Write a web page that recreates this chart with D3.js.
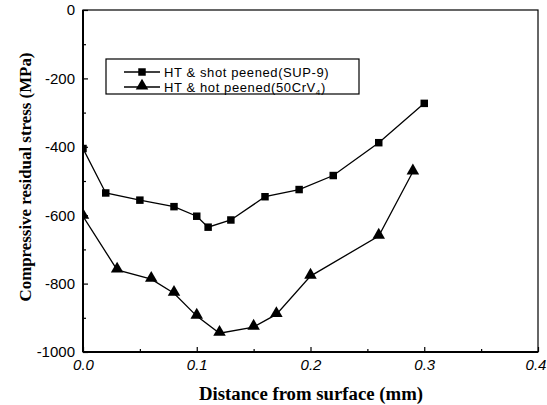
<!DOCTYPE html>
<html>
<head>
<meta charset="utf-8">
<script src="https://cdn.jsdelivr.net/npm/d3@7"></script>
<style>
  body { margin: 0; background: #fff; }
  svg { display: block; }
</style>
</head>
<body>
<div id="chart"></div>
<script>
// Data ------------------------------------------------------------------------------------------
const shotX = [0, 0.02, 0.05, 0.08, 0.10, 0.11, 0.13, 0.16, 0.19, 0.22, 0.26, 0.30];
const shotY = [-405, -535, -556, -575, -603, -635, -614, -546, -525, -484, -388, -273];
const hotX = [0, 0.03, 0.06, 0.08, 0.10, 0.12, 0.15, 0.17, 0.20, 0.26, 0.29];
const hotY = [-603, -760, -787, -828, -895, -945, -927, -890, -778, -661, -473];
const xTicks = [0, 0.1, 0.2, 0.3, 0.4];
const yTicks = [0, -200, -400, -600, -800, -1000];
const legendLabels = ["HT & shot peened(SUP-9)", "HT & hot peened(50CrV"];

const shot = shotX.map((x, i) => ({x, y: shotY[i]}));
const hot = hotX.map((x, i) => ({x, y: hotY[i]}));

// Dimensions ------------------------------------------------------------------------------------
const width = 547, height = 405;
const margin = {top: 10, right: 9, bottom: 53, left: 83};
const w = width - margin.left - margin.right,
      h = height - margin.top - margin.bottom;

const svg = d3.select("#chart").append("svg")
  .attr("width", width)
  .attr("height", height);

const g = svg.append("g")
  .attr("transform", `translate(${margin.left},${margin.top})`);

// Scales ----------------------------------------------------------------------------------------
const x = d3.scaleLinear().domain([0, 0.4]).range([0, w]);
const y = d3.scaleLinear().domain([-1000, 0]).range([h, 0]);

// Clip
svg.append("defs").append("clipPath").attr("id", "plot-clip")
  .append("rect").attr("width", w).attr("height", h);

// Axes ------------------------------------------------------------------------------------------
const tickFont = "'Liberation Sans', Arial, sans-serif";

// major ticks (inward)
g.append("g")
  .attr("transform", `translate(0,${h})`)
  .call(d3.axisBottom(x).tickValues(xTicks).tickSizeInner(-5).tickSizeOuter(0).tickPadding(7)
    .tickFormat(d3.format(".1f")))
  .call(a => a.select(".domain").remove())
  .call(a => a.selectAll("text")
    .attr("font-family", tickFont).attr("font-size", 15).attr("font-style", "italic")
    .attr("fill", "#000"))
  .call(a => a.selectAll("text").filter(d => d === 0.4).attr("dx", -2.5));

g.append("g")
  .call(d3.axisLeft(y).tickValues(yTicks).tickSizeInner(-5).tickSizeOuter(0).tickPadding(8)
    .tickFormat(d => String(d)))
  .call(a => a.select(".domain").remove())
  .call(a => a.selectAll("text")
    .attr("font-family", tickFont).attr("font-size", 15)
    .attr("fill", "#000"));

// minor ticks
g.append("g")
  .attr("transform", `translate(0,${h})`)
  .call(d3.axisBottom(x).tickValues([0.05, 0.15, 0.25, 0.35]).tickSizeInner(-3).tickSizeOuter(0).tickFormat(""))
  .call(a => a.select(".domain").remove());

g.append("g")
  .call(d3.axisLeft(y).tickValues([-100, -300, -500, -700, -900]).tickSizeInner(-3).tickSizeOuter(0).tickFormat(""))
  .call(a => a.select(".domain").remove());

g.selectAll(".tick line").attr("stroke", "#000").attr("stroke-width", 1.2);

// frame
g.append("rect")
  .attr("width", w).attr("height", h)
  .attr("fill", "none").attr("stroke", "#000").attr("stroke-width", 1.2);
g.append("line").attr("x1", 0).attr("x2", 0).attr("y1", 0).attr("y2", h)
  .attr("stroke", "#000").attr("stroke-width", 2);
g.append("line").attr("x1", 0).attr("x2", w).attr("y1", h).attr("y2", h)
  .attr("stroke", "#000").attr("stroke-width", 2);

// Axis titles
const titleFont = "'Liberation Serif', 'Times New Roman', serif";
svg.append("text")
  .attr("x", 311).attr("y", 400)
  .attr("text-anchor", "middle")
  .attr("font-family", titleFont).attr("font-weight", "bold").attr("font-size", 18)
  .attr("textLength", 224).attr("lengthAdjust", "spacingAndGlyphs")
  .text("Distance from surface (mm)");

svg.append("text")
  .attr("transform", `translate(31,177) rotate(-90)`)
  .attr("text-anchor", "middle")
  .attr("font-family", titleFont).attr("font-weight", "bold").attr("font-size", 17)
  .attr("textLength", 249).attr("lengthAdjust", "spacingAndGlyphs")
  .text("Compressive residual stress (MPa)");

// Lines & markers -------------------------------------------------------------------------------
const line = d3.line().x(d => x(d.x)).y(d => y(d.y));
const plot = g.append("g").attr("clip-path", "url(#plot-clip)");

plot.append("path").datum(shot)
  .attr("d", line).attr("fill", "none").attr("stroke", "#000").attr("stroke-width", 1.3);
plot.append("path").datum(hot)
  .attr("d", line).attr("fill", "none").attr("stroke", "#000").attr("stroke-width", 1.3);

const sq = d3.symbol().type(d3.symbolSquare).size(56);
const tri = d3.symbol().type(d3.symbolTriangle).size(68);

plot.selectAll(".sq").data(shot).enter().append("path")
  .attr("class", "sq")
  .attr("transform", d => `translate(${x(d.x)},${y(d.y)})`)
  .attr("d", sq).attr("fill", "#000");

plot.selectAll(".tri").data(hot).enter().append("path")
  .attr("class", "tri")
  .attr("transform", d => `translate(${x(d.x)},${y(d.y) - 1})`)
  .attr("d", tri).attr("fill", "#000");

// Legend ----------------------------------------------------------------------------------------
const legend = svg.append("g");
legend.append("rect")
  .attr("x", 106).attr("y", 59).attr("width", 253).attr("height", 35)
  .attr("fill", "#fff").attr("stroke", "#000").attr("stroke-width", 1.2);

const markers = [sq, tri];
legendLabels.forEach((label, i) => {
  const ly = 72 + i * 15;
  legend.append("line")
    .attr("x1", 124).attr("x2", 160).attr("y1", ly).attr("y2", ly)
    .attr("stroke", "#000").attr("stroke-width", 1.3);
  legend.append("path")
    .attr("transform", `translate(142,${ly - (i ? 1 : 0)})`)
    .attr("d", markers[i]).attr("fill", "#000");
  const t = legend.append("text")
    .attr("x", 164).attr("y", ly + 4.5)
    .attr("font-family", tickFont).attr("font-size", 13)
    .attr("letter-spacing", 0.6).attr("fill", "#000")
    .text(label);
  if (i === 1) {
    t.append("tspan").attr("font-size", 8).attr("dy", 3).text("4");
    t.append("tspan").attr("dy", -3).text(")");
  }
});
</script>
</body>
</html>
